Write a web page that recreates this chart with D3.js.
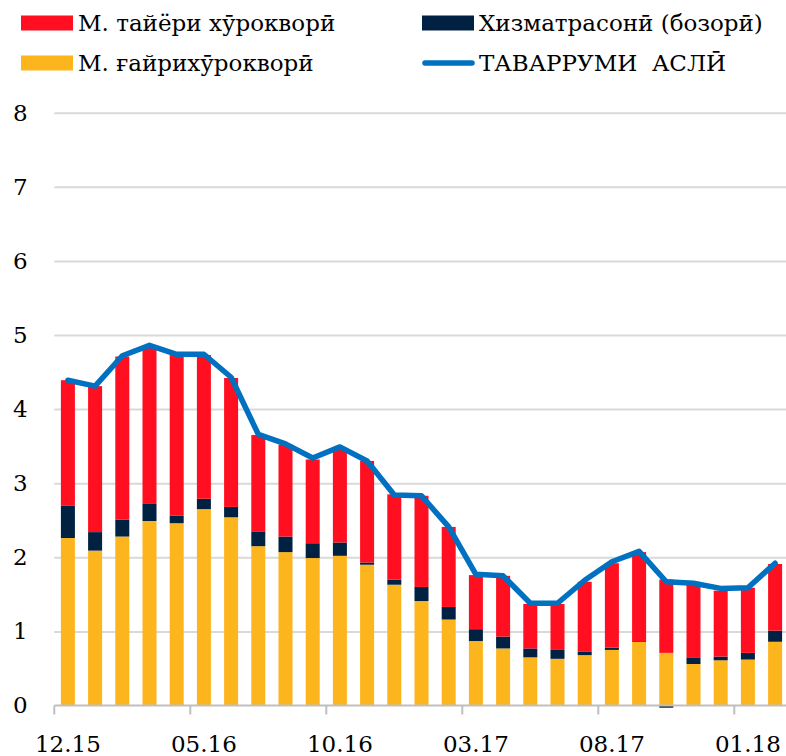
<!DOCTYPE html>
<html lang="tg">
<head>
  <meta charset="UTF-8">
  <title>Таваррум</title>
  <script src="https://cdn.jsdelivr.net/npm/d3@7"></script>
  <style>
    html, body {
      margin: 0;
      padding: 0;
      background: #fff;
    }
  </style>
</head>
<body>
  <svg id="chart" width="786" height="756" font-family="DejaVu Serif" fill="#000"></svg>
  <script>
    const months = ['12.15', '01.16', '02.16', '03.16', '04.16', '05.16', '06.16', '07.16', '08.16',
      '09.16', '10.16', '11.16', '12.16', '01.17', '02.17', '03.17', '04.17', '05.17', '06.17',
      '07.17', '08.17', '09.17', '10.17', '11.17', '12.17', '01.18', '02.18'];

    // М. ғайрихӯрокворӣ
    const nonFood = [2.26, 2.09, 2.28, 2.49, 2.46, 2.65, 2.54, 2.15, 2.07, 1.99, 2.02, 1.90, 1.63, 1.41,
      1.16, 0.87, 0.77, 0.65, 0.63, 0.68, 0.75, 0.86, 0.71, 0.56, 0.61, 0.62, 0.86];
    // Хизматрасонӣ (бозорӣ)
    const services = [0.44, 0.25, 0.23, 0.23, 0.10, 0.14, 0.14, 0.20, 0.21, 0.20, 0.18, 0.03, 0.07, 0.19,
      0.17, 0.16, 0.16, 0.12, 0.12, 0.05, 0.03, 0.01, -0.03, 0.09, 0.05, 0.09, 0.15];
    // М. тайёри хӯрокворӣ
    const food = [1.69, 1.97, 2.20, 2.14, 2.17, 1.94, 1.74, 1.30, 1.24, 1.13, 1.27, 1.37, 1.15, 1.23,
      1.08, 0.73, 0.82, 0.60, 0.62, 0.94, 1.14, 1.20, 0.99, 0.98, 0.89, 0.88, 0.90];
    // ТАВАРРУМИ АСЛӢ
    const headline = [4.39, 4.31, 4.72, 4.86, 4.74, 4.74, 4.43, 3.66, 3.53, 3.34, 3.49, 3.30, 2.84, 2.83,
      2.41, 1.77, 1.75, 1.38, 1.38, 1.69, 1.94, 2.08, 1.67, 1.65, 1.58, 1.59, 1.92];

    const yTicks = [0, 1, 2, 3, 4, 5, 6, 7, 8];
    const labelEvery = 5;
    const fontSize = 23;

    const series = [
      {key: 'nonFood', name: 'М. ғайрихӯрокворӣ', color: '#FDB51E', values: nonFood},
      {key: 'services', name: 'Хизматрасонӣ (бозорӣ)', color: '#002141', values: services},
      {key: 'food', name: 'М. тайёри хӯрокворӣ', color: '#FF0F1F', values: food},
    ];

    const svg = d3.select('#chart');
    const plotLeft = 54.3, plotRight = 54.3 + 27 * 27.2;
    const plotTop = 112.7, plotBottom = 705.5;

    const x = d3.scaleBand()
      .domain(months)
      .range([plotLeft, plotRight])
      .paddingInner(0.485)
      .paddingOuter(0.2425);

    const y = d3.scaleLinear()
      .domain([0, 8])
      .range([plotBottom, plotTop]);

    // gridlines + y labels
    const yAxis = svg.append('g')
      .attr('transform', `translate(${plotLeft},0)`)
      .call(d3.axisLeft(y).tickValues(yTicks).tickSize(-(786 - plotLeft)).tickPadding(34))
      .attr('font-family', null)
      .attr('font-size', fontSize);
    yAxis.select('.domain').remove();
    yAxis.selectAll('.tick line')
      .attr('stroke', '#d9d9d9')
      .attr('stroke-width', 2)
      .filter(d => d === 0).remove();
    yAxis.selectAll('.tick text')
      .attr('fill', '#000')
      .attr('text-anchor', 'middle');

    // stacked bars
    const table = months.map((m, i) => {
      const row = {month: m};
      series.forEach(s => { row[s.key] = s.values[i]; });
      return row;
    });
    const stacked = d3.stack()
      .keys(series.map(s => s.key))
      .offset(d3.stackOffsetDiverging)(table);

    svg.append('g')
      .selectAll('g')
      .data(stacked)
      .join('g')
      .attr('fill', (d, i) => series[i].color)
      .selectAll('rect')
      .data(d => d)
      .join('rect')
      .attr('x', d => x(d.data.month))
      .attr('width', x.bandwidth())
      .attr('y', d => y(Math.max(d[0], d[1])))
      .attr('height', d => Math.abs(y(d[0]) - y(d[1])));

    // x axis
    const gap = x.step() - x.bandwidth();
    const xAxis = svg.append('g');
    xAxis.append('line')
      .attr('x1', plotLeft).attr('x2', 786)
      .attr('y1', y(0)).attr('y2', y(0))
      .attr('stroke', '#bfbfbf')
      .attr('stroke-width', 2);

    const labelled = months.filter((m, i) => i % labelEvery === 0);
    xAxis.selectAll('.tk')
      .data(labelled)
      .join('line')
      .attr('class', 'tk')
      .attr('x1', d => x(d) - gap / 2)
      .attr('x2', d => x(d) - gap / 2)
      .attr('y1', y(0))
      .attr('y2', y(0) + 9)
      .attr('stroke', '#bfbfbf')
      .attr('stroke-width', 2);

    xAxis.selectAll('.lbl')
      .data(labelled)
      .join('text')
      .attr('class', 'lbl')
      .attr('x', d => x(d) + x.bandwidth() / 2)
      .attr('y', 752)
      .attr('text-anchor', 'middle')
      .attr('font-size', fontSize)
      .text(d => d);

    // headline line
    const line = d3.line()
      .x((d, i) => x(months[i]) + x.bandwidth() / 2)
      .y(d => y(d));

    svg.append('path')
      .datum(headline)
      .attr('fill', 'none')
      .attr('stroke', '#0070C0')
      .attr('stroke-width', 5.5)
      .attr('stroke-linejoin', 'round')
      .attr('stroke-linecap', 'round')
      .attr('d', line);

    // legend
    const legendItems = [
      {name: series[2].name, color: series[2].color, type: 'rect', lx: 21, ly: 23},
      {name: series[1].name, color: series[1].color, type: 'rect', lx: 422, ly: 23},
      {name: series[0].name, color: series[0].color, type: 'rect', lx: 21, ly: 63},
      {name: 'ТАВАРРУМИ  АСЛӢ', color: '#0070C0', type: 'line', lx: 422, ly: 63},
    ];
    const legend = svg.append('g')
      .selectAll('g')
      .data(legendItems)
      .join('g')
      .attr('transform', d => `translate(${d.lx},${d.ly})`);

    legend.filter(d => d.type === 'rect')
      .append('rect')
      .attr('x', 0).attr('y', -7.5)
      .attr('width', 52).attr('height', 15)
      .attr('fill', d => d.color);

    legend.filter(d => d.type === 'line')
      .append('line')
      .attr('x1', 3).attr('x2', 50)
      .attr('stroke', d => d.color)
      .attr('stroke-width', 5.5)
      .attr('stroke-linecap', 'round');

    legend.append('text')
      .attr('x', 57)
      .attr('y', 0)
      .attr('dy', '0.35em')
      .attr('font-size', fontSize)
      .style('white-space', 'pre')
      .text(d => d.name);
  </script>
</body>
</html>
